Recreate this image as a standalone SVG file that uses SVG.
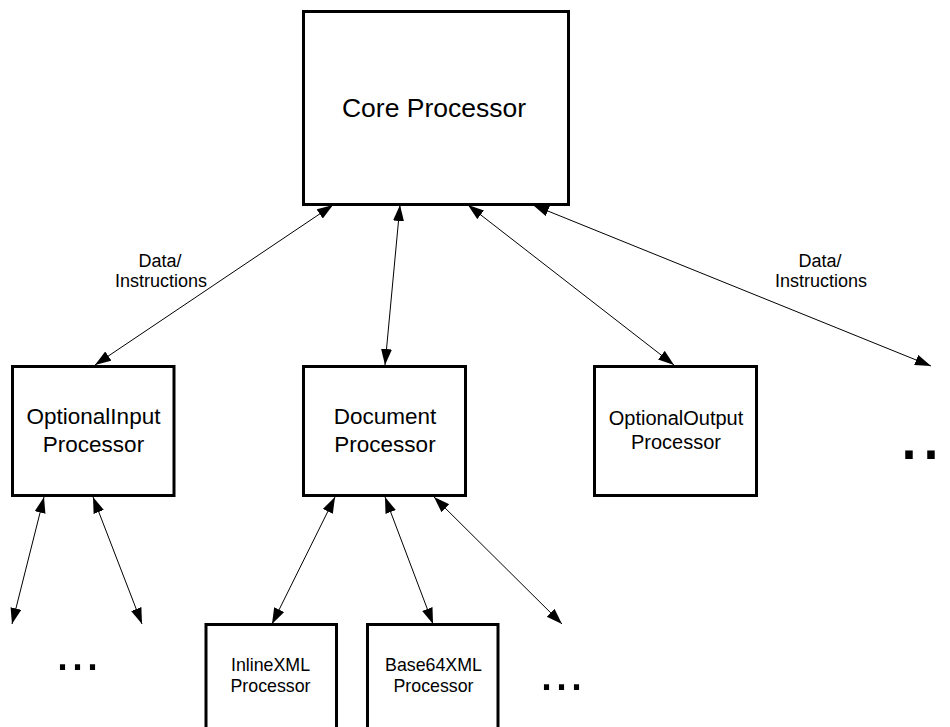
<svg xmlns="http://www.w3.org/2000/svg" width="950" height="727" viewBox="0 0 950 727">
  <defs>
    <marker id="head" markerUnits="userSpaceOnUse" markerWidth="16" markerHeight="12" refX="16" refY="5.5" orient="auto-start-reverse">
      <path d="M0,0 L16,5.5 L0,11 z" fill="#000"/>
    </marker>
  </defs>
  <style>
    .box { fill: #fff; stroke: #000; stroke-width: 3; }
    .lbl { font-family: "Liberation Sans", Arial, sans-serif; fill: #000; text-anchor: middle; }
    .link { stroke: #000; stroke-width: 1; fill: none; marker-start: url(#head); marker-end: url(#head); }
    .more { font-family: "Liberation Sans", Arial, sans-serif; fill: #000; }
  </style>
  <rect width="950" height="727" fill="#fff"/>

  <!-- connectors -->
  <g id="connectors">
    <line class="link" x1="333" y1="205" x2="95" y2="365"/>
    <line class="link" x1="400" y1="205" x2="385" y2="365"/>
    <line class="link" x1="468" y1="205" x2="674" y2="365"/>
    <line class="link" x1="533" y1="205" x2="931" y2="366"/>
    <line class="link" x1="44" y1="497" x2="12" y2="624"/>
    <line class="link" x1="93" y1="497" x2="142" y2="624"/>
    <line class="link" x1="335" y1="497" x2="272" y2="624"/>
    <line class="link" x1="385" y1="497" x2="433" y2="624"/>
    <line class="link" x1="434" y1="497" x2="562" y2="624"/>
    <text class="lbl" font-size="18" x="160" y="267">Data/</text>
    <text class="lbl" font-size="18" x="161" y="287">Instructions</text>
    <text class="lbl" font-size="18" x="820" y="267">Data/</text>
    <text class="lbl" font-size="18" x="821" y="287">Instructions</text>
  </g>

  <g id="core">
    <rect class="box" x="303.5" y="11.5" width="265" height="193"/>
    <text class="lbl" font-size="26.5" x="434" y="117">Core Processor</text>
  </g>

  <g id="optional-input">
    <rect class="box" x="12.5" y="366.5" width="161.5" height="129"/>
    <text class="lbl" font-size="22.5" x="93.5" y="424">OptionalInput</text>
    <text class="lbl" font-size="22.5" x="93.5" y="452">Processor</text>
  </g>

  <g id="document">
    <rect class="box" x="303.5" y="366.5" width="162" height="129"/>
    <text class="lbl" font-size="22.5" x="385" y="424">Document</text>
    <text class="lbl" font-size="22.5" x="385" y="452">Processor</text>
  </g>

  <g id="optional-output">
    <rect class="box" x="594.5" y="366.5" width="162" height="129"/>
    <text class="lbl" font-size="20" x="676" y="425">OptionalOutput</text>
    <text class="lbl" font-size="20" x="676" y="449">Processor</text>
  </g>

  <g id="inline-xml">
    <rect class="box" x="206" y="624.5" width="130.5" height="120"/>
    <text class="lbl" font-size="17.8" x="270.5" y="671">InlineXML</text>
    <text class="lbl" font-size="17.8" x="270.5" y="692">Processor</text>
  </g>

  <g id="base64-xml">
    <rect class="box" x="367.5" y="624.5" width="130.5" height="120"/>
    <text class="lbl" font-size="17.8" x="433.5" y="671">Base64XML</text>
    <text class="lbl" font-size="17.8" x="433.5" y="692">Processor</text>
  </g>

  <!-- continuation marks -->
  <g id="more-outputs"><text class="more" font-size="79" x="898" y="459">..</text></g>
  <g id="more-inputs"><text class="more" font-size="54" x="55" y="670">...</text></g>
  <g id="more-documents"><text class="more" font-size="54" x="539" y="690">...</text></g>
</svg>
